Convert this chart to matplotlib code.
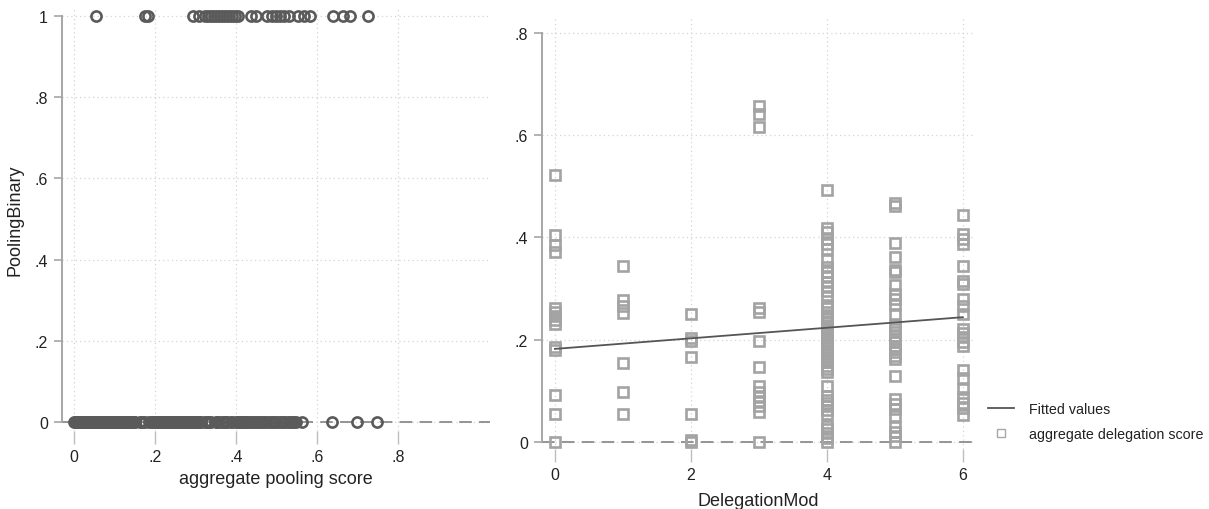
import matplotlib
matplotlib.use("Agg")
import matplotlib.pyplot as plt
from matplotlib.lines import Line2D
import numpy as np

plt.rcParams['font.family'] = ['Liberation Sans', 'DejaVu Sans']

# aggregate pooling score, split by PoolingBinary
pool_score_0 = [0.0, 0.002, 0.004, 0.006, 0.008, 0.01, 0.012, 0.014, 0.017, 0.019,
                0.021, 0.024, 0.026, 0.028, 0.031, 0.033, 0.035, 0.038, 0.04, 0.043,
                0.045, 0.048, 0.05, 0.053, 0.055, 0.058, 0.061, 0.063, 0.066, 0.068,
                0.071, 0.074, 0.077, 0.079, 0.082, 0.085, 0.088, 0.091, 0.094, 0.097,
                0.1, 0.103, 0.106, 0.109, 0.112, 0.115, 0.118, 0.121, 0.124, 0.127,
                0.13, 0.133, 0.136, 0.139, 0.142, 0.145, 0.148, 0.151, 0.162, 0.166,
                0.17, 0.174, 0.186, 0.19, 0.194, 0.198, 0.202, 0.206, 0.21, 0.214,
                0.218, 0.222, 0.226, 0.23, 0.234, 0.238, 0.242, 0.246, 0.25, 0.254,
                0.258, 0.262, 0.266, 0.27, 0.274, 0.278, 0.282, 0.286, 0.29, 0.294,
                0.298, 0.302, 0.306, 0.31, 0.314, 0.322, 0.326, 0.33, 0.334, 0.338,
                0.35, 0.354, 0.358, 0.366, 0.37, 0.374, 0.378, 0.387, 0.391, 0.399,
                0.403, 0.407, 0.411, 0.415, 0.419, 0.423, 0.428, 0.432, 0.437, 0.441,
                0.446, 0.452, 0.456, 0.461, 0.466, 0.472, 0.477, 0.483, 0.488, 0.494,
                0.499, 0.505, 0.51, 0.516, 0.521, 0.527, 0.532, 0.538, 0.543, 0.548,
                0.563, 0.637, 0.699, 0.748]
pool_score_1 = [0.054, 0.175, 0.183, 0.294, 0.309, 0.322, 0.33, 0.337, 0.345, 0.352,
                0.36, 0.368, 0.375, 0.383, 0.39, 0.397, 0.405, 0.437, 0.449, 0.476,
                0.488, 0.498, 0.508, 0.518, 0.53, 0.553, 0.568, 0.583, 0.64, 0.664,
                0.681, 0.726]

# aggregate delegation score by DelegationMod
deleg_score_0 = [0.522, 0.404, 0.386, 0.371, 0.262, 0.254, 0.246, 0.239, 0.231, 0.185,
                 0.179, 0.091, 0.055, 0.0]
deleg_score_1 = [0.345, 0.278, 0.266, 0.252, 0.154, 0.097, 0.055]
deleg_score_2 = [0.250, 0.203, 0.198, 0.167, 0.055, 0.003, 0.0]
deleg_score_3 = [0.657, 0.642, 0.616, 0.262, 0.255, 0.198, 0.146, 0.110, 0.098, 0.088,
                 0.081, 0.07, 0.058, 0.0]
deleg_score_4 = [0.492, 0.419, 0.41, 0.397, 0.388, 0.378, 0.355, 0.342, 0.333, 0.325,
                 0.312, 0.303, 0.295, 0.286, 0.268, 0.262, 0.254, 0.247, 0.24, 0.235,
                 0.228, 0.222, 0.218, 0.212, 0.206, 0.2, 0.195, 0.19, 0.184, 0.178,
                 0.172, 0.166, 0.16, 0.156, 0.149, 0.143, 0.137, 0.110, 0.09, 0.083,
                 0.076, 0.071, 0.063, 0.055, 0.032, 0.025, 0.018, 0.008, 0.0]
deleg_score_5 = [0.468, 0.462, 0.389, 0.361, 0.336, 0.332, 0.306, 0.29, 0.28, 0.267,
                 0.250, 0.228, 0.221, 0.215, 0.208, 0.202, 0.195, 0.188, 0.182, 0.176,
                 0.169, 0.162, 0.130, 0.084, 0.074, 0.065, 0.051, 0.03, 0.02, 0.012, 0.0]
deleg_score_6 = [0.443, 0.407, 0.397, 0.388, 0.345, 0.314, 0.308, 0.28, 0.265, 0.25,
                 0.221, 0.213, 0.205, 0.196, 0.188, 0.14, 0.125, 0.104, 0.087, 0.076,
                 0.066, 0.052]
deleg_mods = [0, 1, 2, 3, 4, 5, 6]

# linear fit endpoints
fit_x = [0, 6]
fit_y = [0.182, 0.244]

left_xticks = [0, 0.2, 0.4, 0.6, 0.8]
left_xlabels = ['0', '.2', '.4', '.6', '.8']
left_yticks = [0, 0.2, 0.4, 0.6, 0.8, 1.0]
left_ylabels = ['0', '.2', '.4', '.6', '.8', '1']
right_xticks = [0, 2, 4, 6]
right_xlabels = ['0', '2', '4', '6']
right_yticks = [0, 0.2, 0.4, 0.6, 0.8]
right_ylabels = ['0', '.2', '.4', '.6', '.8']

AXIS_GRAY = '#a6a6a6'
GRID_GRAY = '#d4d4d4'
TEXT = '#222222'


def style_axis(ax, ybounds):
    for side in ['top', 'right', 'bottom']:
        ax.spines[side].set_visible(False)
    ax.spines['left'].set_color(AXIS_GRAY)
    ax.spines['left'].set_linewidth(1.4)
    ax.spines['left'].set_bounds(*ybounds)
    ax.grid(True, linestyle=(0, (1, 2.5)), color=GRID_GRAY, linewidth=0.9)
    ax.set_axisbelow(True)
    ax.tick_params(axis='y', length=6, width=1.2, color=AXIS_GRAY,
                   labelsize=11.5, labelcolor=TEXT, pad=4)
    ax.tick_params(axis='x', length=9, width=1.0, color='#bdbdbd',
                   labelsize=11.5, labelcolor=TEXT, pad=4)


fig = plt.figure(figsize=(12.09, 5.10), dpi=100)

# left: PoolingBinary vs aggregate pooling score
ax1 = fig.add_axes([62 / 1209, 1 - 432 / 510, 428 / 1209, 424 / 510])
ax1.axhline(0, color='#8c8c8c', linewidth=1.3, linestyle=(0, (7, 4)), zorder=1)
ax1.plot(pool_score_0, np.zeros(len(pool_score_0)), 'o', ms=7.3, mfc='none',
         mec='#5a5a5a', mew=1.9, zorder=3)
ax1.plot(pool_score_1, np.ones(len(pool_score_1)), 'o', ms=7.3, mfc='none',
         mec='#5a5a5a', mew=1.9, zorder=3)
ax1.set_xlim(-0.03, 1.027)
ax1.set_ylim(-0.022, 1.022)
ax1.set_xticks(left_xticks, left_xlabels)
ax1.set_yticks(left_yticks, left_ylabels)
style_axis(ax1, (0, 1))
ax1.set_xlabel('aggregate pooling score', fontsize=13, color=TEXT, labelpad=4)
ax1.set_ylabel('PoolingBinary', fontsize=13, color=TEXT, labelpad=8)

# right: aggregate delegation score vs DelegationMod
ax2 = fig.add_axes([542 / 1209, 1 - 450 / 510, 433 / 1209, 430 / 510])
ax2.axhline(0, color='#8c8c8c', linewidth=1.3, linestyle=(0, (7, 4)), zorder=1)
deleg_scores = [deleg_score_0, deleg_score_1, deleg_score_2, deleg_score_3,
                deleg_score_4, deleg_score_5, deleg_score_6]
for mod, scores in zip(deleg_mods, deleg_scores):
    ax2.plot(np.full(len(scores), mod), scores, 's', ms=7, mfc='none',
             mec='#a3a3a3', mew=1.9, zorder=3)
ax2.plot(fit_x, fit_y, color='#555555', linewidth=1.3, zorder=4)
ax2.set_xlim(-0.19, 6.18)
ax2.set_ylim(-0.0137, 0.827)
ax2.set_xticks(right_xticks, right_xlabels)
ax2.set_yticks(right_yticks, right_ylabels)
style_axis(ax2, (0, 0.8))
ax2.set_xlabel('DelegationMod', fontsize=13, color=TEXT, labelpad=7)

handles = [
    Line2D([], [], color='#555555', linewidth=1.3),
    Line2D([], [], marker='s', linestyle='none', ms=5.5, mfc='none',
           mec='#a8a8a8', mew=1.0),
]
fig.legend(handles, ['Fitted values', 'aggregate delegation score'],
           loc='upper left', bbox_to_anchor=(988 / 1209, 1 - 403 / 510),
           frameon=False, fontsize=10.3, handlelength=1.8, handletextpad=1.1,
           labelspacing=0.75, borderpad=0, borderaxespad=0, labelcolor=TEXT)

fig.savefig('out.png', dpi=100)
